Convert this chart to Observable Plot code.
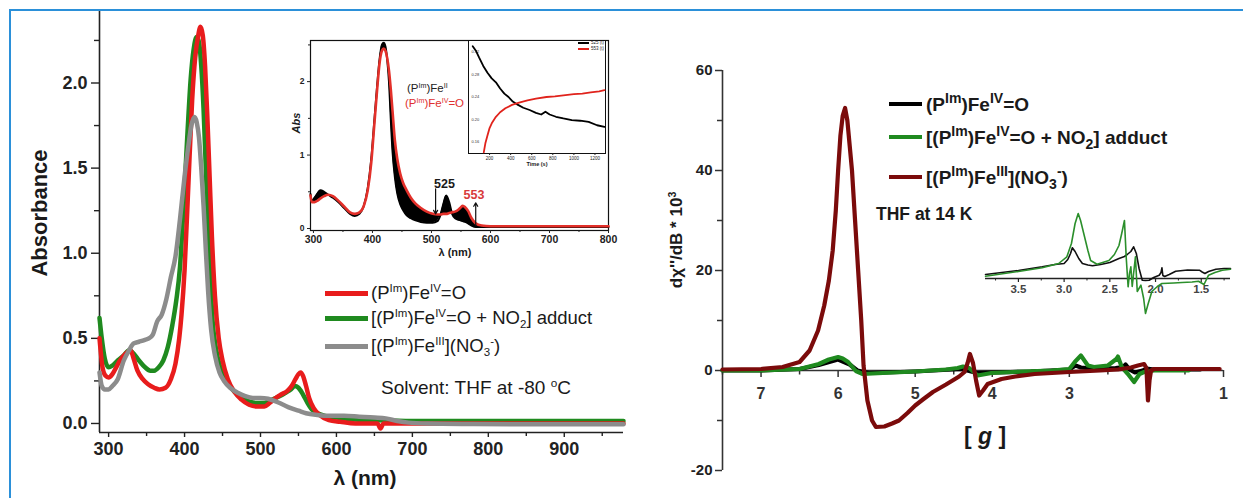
<!DOCTYPE html>
<html>
<head>
<meta charset="utf-8">
<script src="https://cdn.jsdelivr.net/npm/d3@7"></script>
<script src="https://cdn.jsdelivr.net/npm/@observablehq/plot@0.6"></script>
<style>
html,body{margin:0;padding:0;background:#fff;}
#root{position:relative;width:1243px;height:498px;overflow:hidden;background:#fff;font-family:"Liberation Sans",Arial,Helvetica,sans-serif;color:#1a1a1a;}
#root svg{position:absolute;overflow:visible;}
.t{position:absolute;white-space:nowrap;line-height:1;}
.t sup{font-size:62%;vertical-align:0;position:relative;top:-0.6em;}
.t sub{font-size:62%;vertical-align:0;position:relative;top:0.35em;}
.big sup,.big sub{font-size:74%;}
.sw{position:absolute;}
#border{position:absolute;left:9px;top:9px;width:1300px;height:520px;border:2px solid #2b90d9;box-sizing:border-box;}
</style>
</head>
<body>
<div id="root"><div id="border"></div></div>
<script>
// ---------------- Left panel: UV-vis (main) ----------------
const absMajor = [0, 0.5, 1.0, 1.5, 2.0];
const absMinor = [0.25, 0.75, 1.25, 1.75, 2.25];
const wlMajor = [300, 400, 500, 600, 700, 800, 900];
const wlMinor = [350, 450, 550, 650, 750, 850, 950];

const redWl  = [288,292,296,300,305,310,315,320,325,329,333,338,345,352,360,367,375,382,388,393,396,400,405,410,414,418,421,424,427,430,433,436,440,445,450,457,465,475,485,495,505,512,520,527,535,541,546,550,553,556,560,564,570,578,590,605,625,645,654,658,662,675,700,750,800,850,900,950,978];
const redAbs = [0.50,0.33,0.28,0.27,0.29,0.33,0.37,0.40,0.42,0.43,0.38,0.31,0.26,0.23,0.21,0.20,0.21,0.26,0.35,0.50,0.64,0.90,1.40,1.90,2.15,2.28,2.33,2.28,2.10,1.80,1.45,1.10,0.75,0.50,0.37,0.26,0.19,0.14,0.11,0.10,0.10,0.12,0.15,0.17,0.19,0.22,0.26,0.29,0.30,0.28,0.22,0.15,0.09,0.05,0.02,0.01,0.0,0.0,0.0,-0.03,0.0,0.0,0.0,0.0,0.0,0.0,0.0,0.0,0.0];

const greenWl  = [288,291,295,300,305,312,320,327,333,340,348,355,360,366,372,378,384,389,394,399,404,408,412,416,419,422,425,428,431,434,437,441,447,452,458,465,475,485,495,505,515,525,533,540,545,550,556,562,568,575,585,600,620,650,700,750,800,850,900,950,978];
const greenAbs = [0.62,0.50,0.38,0.33,0.34,0.37,0.40,0.43,0.41,0.37,0.33,0.31,0.31,0.33,0.37,0.45,0.58,0.72,0.92,1.30,1.72,2.02,2.20,2.27,2.24,2.10,1.85,1.50,1.15,0.85,0.60,0.45,0.33,0.27,0.23,0.19,0.15,0.13,0.12,0.12,0.14,0.16,0.18,0.20,0.22,0.21,0.17,0.12,0.08,0.06,0.045,0.035,0.025,0.02,0.015,0.015,0.015,0.015,0.015,0.015,0.015];

const grayWl  = [288,291,295,300,305,312,320,327,333,340,347,353,358,364,370,376,382,388,394,400,405,409,413,416,419,422,425,428,431,435,440,446,452,460,470,480,490,500,510,520,530,540,550,560,575,590,610,630,650,665,680,695,720,780,850,920,978];
const grayAbs = [0.30,0.22,0.20,0.20,0.22,0.26,0.37,0.43,0.47,0.48,0.49,0.50,0.52,0.60,0.64,0.73,0.86,0.98,1.20,1.45,1.63,1.75,1.80,1.77,1.68,1.50,1.28,1.02,0.78,0.55,0.40,0.30,0.25,0.21,0.18,0.16,0.15,0.15,0.145,0.13,0.11,0.09,0.075,0.06,0.05,0.045,0.045,0.04,0.035,0.03,0.015,0.005,0.0,-0.003,-0.005,-0.005,-0.005];

// ---------------- Left inset: spectral change ----------------
const inAbsTicks = [0, 1, 2];
const inAbsMinor = [0.5, 1.5, 2.5];
const inWlTicks = [300, 400, 500, 600, 700, 800];
const inWlMinor = [350, 450, 550, 650, 750];
const inWl    = [295,297,302,307,312,318,325,333,342,352,362,370,378,385,392,398,403,408,412,416,419,422,425,428,431,434,438,442,447,452,458,465,473,482,492,502,510,515,520,525,530,535,540,546,550,553,557,562,568,575,585,600,650,700,750,800];
const inBlack = [0.47,0.38,0.42,0.48,0.52,0.50,0.46,0.42,0.36,0.28,0.20,0.17,0.20,0.30,0.55,0.95,1.45,1.95,2.30,2.50,2.53,2.48,2.30,2.00,1.50,1.05,0.70,0.48,0.33,0.25,0.18,0.14,0.11,0.09,0.08,0.08,0.10,0.18,0.33,0.45,0.36,0.20,0.14,0.12,0.11,0.10,0.09,0.07,0.04,0.02,0.02,0.02,0.02,0.02,0.02,0.02];
const inRed   = [0.45,0.36,0.36,0.38,0.41,0.44,0.46,0.44,0.38,0.30,0.22,0.20,0.22,0.30,0.52,0.90,1.40,1.90,2.25,2.42,2.45,2.42,2.32,2.15,1.90,1.60,1.20,0.95,0.75,0.62,0.52,0.42,0.34,0.28,0.23,0.20,0.19,0.19,0.20,0.20,0.21,0.22,0.23,0.26,0.29,0.31,0.29,0.24,0.14,0.07,0.04,0.03,0.03,0.03,0.03,0.03];
const peakLabels = ["525", "553"];
const peakLabelWl = [522, 572];
const peakLabelAbs = [0.60, 0.46];
const peakLabelColors = ["#1a1a1a", "#d83a3a"];
const arrowWl = [507, 575];
const arrowFrom = [0.54, 0.04];
const arrowTo = [0.20, 0.35];

// ---------------- Kinetic sub-inset ----------------
const kinTimeTicks = [200, 400, 600, 800, 1000, 1200];
const kinYTicks = [0.16, 0.20, 0.24, 0.28, 0.32];
const kinBlackT = [40,70,100,140,180,220,260,300,340,380,420,470,520,580,640,690,730,770,830,900,980,1060,1140,1220,1290];
const kinBlack  = [0.33,0.322,0.31,0.295,0.283,0.273,0.266,0.255,0.246,0.24,0.232,0.226,0.221,0.217,0.212,0.209,0.214,0.209,0.205,0.202,0.199,0.198,0.196,0.19,0.187];
const kinRedT = [145,160,180,200,225,260,300,350,413,480,560,640,740,820,900,1000,1080,1160,1240,1290];
const kinRed  = [0.142,0.158,0.172,0.185,0.195,0.205,0.213,0.22,0.226,0.23,0.234,0.237,0.24,0.241,0.243,0.245,0.246,0.248,0.25,0.252];

// ---------------- Right panel: EPR ----------------
const eprYMajor = [-20, 0, 20, 40, 60];
const eprYMinor = [-10, 10, 30, 50];
const gMajor = [7, 6, 5, 4, 3, 2, 1];
const gMinor = [7.5, 6.5, 5.5, 4.5, 3.5, 2.5, 1.5];
const gLabels = [7, 6, 5, 4, 3, 1];

const blackG = [7.5,7.0,6.5,6.25,6.0,5.85,5.75,5.6,5.0,4.4,4.2,3.5,3.0,2.92,2.85,2.7,2.4,2.3,2.27,2.22,2.15,2.05,2.0,1.9,1.5,1.3];
const blackV = [0,0,0.3,1.1,2.2,1.2,0,-0.5,-0.2,0.3,-0.5,-0.2,0.2,1.0,0.6,0.4,0.5,0.7,1.2,0.2,-0.4,0,0.4,0.2,0.2,0.2];
const greenG = [7.5,7.0,6.5,6.25,6.12,6.0,5.94,5.87,5.77,5.68,5.42,5.0,4.6,4.45,4.38,4.3,4.19,4.01,3.6,3.23,3.0,2.93,2.85,2.76,2.68,2.5,2.39,2.37,2.32,2.24,2.16,2.09,2.03,1.9,1.7,1.45];
const greenV = [0,0,0.3,1.3,2.2,2.7,2.4,1.7,-0.1,-0.7,-0.5,-0.2,0.2,0.5,0.8,0.5,-1,-0.5,-0.2,0,0.3,1.7,3,1,0.7,1,2.3,2.8,0.7,-0.7,-2.3,-0.7,-0.3,0,0,0];
const maroonG = [7.5,7.0,6.72,6.5,6.37,6.26,6.18,6.12,6.07,6.03,6.0,5.97,5.94,5.91,5.88,5.85,5.82,5.78,5.74,5.7,5.67,5.62,5.56,5.51,5.4,5.3,5.21,5.1,5.0,4.9,4.77,4.6,4.43,4.36,4.32,4.29,4.25,4.21,4.17,4.12,4.06,3.97,3.88,3.7,3.45,3.0,2.6,2.37,2.2,2.11,2.03,2.0,1.98,1.96,1.94,1.9,1.7,1.4,1.05];
const maroonV = [0.2,0.3,0.7,1.7,4,8,13,18,24,32,40,47,51,52.5,50,45,40,30,20,10,1,-6,-10,-11.3,-11.2,-10.6,-10,-8.5,-7,-5.8,-4.3,-2.8,-1.2,-0.3,1.5,3.3,1.5,-2,-5,-4,-2.7,-2.2,-1.7,-1.2,-0.7,-0.3,0,0.2,0.6,1.0,1.3,0.5,-6,-2,0,0.3,0.3,0.3,0.3];

// ---------------- Right inset: expanded EPR (arbitrary units) ----------------
const insetGTicks = [3.5, 3.0, 2.5, 2.0, 1.5];
const insetGMinor = [3.75, 3.25, 2.75, 2.25, 1.75, 1.25];
const insetBlackG = [3.86,3.5,3.24,3.1,3.0,2.96,2.93,2.91,2.88,2.84,2.80,2.74,2.69,2.6,2.5,2.4,2.34,2.31,2.27,2.24,2.21,2.18,2.145,2.11,2.07,2.02,1.96,1.94,1.93,1.92,1.9,1.85,1.78,1.65,1.52,1.49,1.46,1.42,1.34,1.25,1.18];
const insetBlackV = [4,8,11.7,14,15,19,25,30.7,27,20,15,13.5,12.7,14,16,20,22,24,27,31.7,25,10,-1.7,-2,-1.7,1,3.3,6,10.7,3,2,4,7.3,8.5,8.3,6.5,5,7,9.3,10,10];
const insetGreenG = [3.86,3.5,3.24,3.06,2.97,2.92,2.88,2.846,2.82,2.78,2.74,2.71,2.64,2.51,2.45,2.40,2.37,2.34,2.32,2.30,2.285,2.27,2.255,2.24,2.22,2.20,2.16,2.13,2.11,2.08,2.04,1.98,1.93,1.8,1.71,1.6,1.53,1.47,1.42,1.35,1.27,1.18];
const insetGreenV = [2.3,7,10.7,15,21.7,35,55,65,58,43,28,18,14.3,18,24,33,45,58,20,-8.3,5,11.7,-8,5,21.7,-13,-6.7,-20,-35,-25,-13,-8,-5,-4.5,-4,-3.5,-2.7,-6,3.3,6,8.3,9.3];

// ---------------- Rendering ----------------
const FONT = '"Liberation Sans", Arial, Helvetica, sans-serif';
const C_RED = "#e81c1c", C_GREEN = "#1f8a1f", C_GRAY = "#8c8c8c", C_MAROON = "#7b0b0b";
const root = document.getElementById("root");

function put(svg, left, top) {
  svg.style.left = left + "px";
  svg.style.top = top + "px";
  root.appendChild(svg);
}
function label(html, x, y, o = {}) {
  const d = document.createElement("div");
  d.className = "t" + (o.cls ? " " + o.cls : "");
  d.innerHTML = html;
  d.style.fontSize = (o.size || 16) + "px";
  d.style.fontWeight = o.weight || "normal";
  d.style.color = o.color || "#1a1a1a";
  if (o.italic) d.style.fontStyle = "italic";
  const tx = o.anchor === "middle" ? "-50%" : o.anchor === "end" ? "-100%" : "0";
  d.style.left = x + "px";
  d.style.top = y + "px";
  d.style.transform = o.rotate ? `translate(-50%,-50%) rotate(${o.rotate}deg)` : `translate(${tx},-50%)`;
  root.appendChild(d);
}
function swatch(x, y, w, h, color) {
  const d = document.createElement("div");
  d.className = "sw";
  d.style.left = x + "px"; d.style.top = (y - h / 2) + "px";
  d.style.width = w + "px"; d.style.height = h + "px";
  d.style.background = color;
  root.appendChild(d);
}
const baseStyle = (size) => ({background: "transparent", fontFamily: FONT, fontSize: size + "px", color: "#222", overflow: "visible"});

// Left main plot
const uv = Plot.plot({
  width: 640, height: 498,
  marginLeft: 99, marginRight: 17, marginTop: 11, marginBottom: 66,
  x: {domain: [288, 978], axis: null},
  y: {domain: [-0.053, 2.42], axis: null},
  style: {...baseStyle(18), fontWeight: "bold"},
  marks: [
    Plot.axisY({ticks: absMajor, tickSize: 8, tickPadding: 4, tickFormat: d3.format(".1f"), label: null, fontSize: 18, fontWeight: "bold", strokeWidth: 1.4}),
    Plot.axisY({ticks: absMinor, tickSize: 5, tickFormat: () => "", label: null, strokeWidth: 1.4}),
    Plot.axisX({ticks: wlMajor, tickSize: 5, tickPadding: 5, tickFormat: d3.format("d"), label: null, fontSize: 18, fontWeight: "bold", strokeWidth: 1.4}),
    Plot.axisX({ticks: wlMinor, tickSize: 4, tickFormat: () => "", label: null, strokeWidth: 1.4}),
    Plot.ruleX([288], {stroke: "#222", strokeWidth: 1.6}),
    Plot.ruleY([-0.053], {stroke: "#222", strokeWidth: 1.6}),
    Plot.line(greenWl, {x: greenWl, y: greenAbs, stroke: C_GREEN, strokeWidth: 4.5, curve: "monotone-x"}),
    Plot.line(redWl, {x: redWl, y: redAbs, stroke: C_RED, strokeWidth: 4.5, curve: "monotone-x"}),
    Plot.line(grayWl, {x: grayWl, y: grayAbs, stroke: C_GRAY, strokeWidth: 4.5, curve: "monotone-x"})
  ]
});
put(uv, 0, 0);

// Left inset
const inset = Plot.plot({
  width: 340, height: 225,
  marginLeft: 30, marginRight: 12, marginTop: 10, marginBottom: 25,
  x: {domain: [295, 800], axis: null},
  y: {domain: [-0.027, 2.56], axis: null},
  style: {...baseStyle(10), fontWeight: "bold"},
  marks: [
    Plot.frame({stroke: "#111", strokeWidth: 1.2}),
    Plot.axisY({ticks: inAbsTicks, tickSize: 3, tickPadding: 3, tickFormat: d3.format("d"), label: null, fontSize: 8.5, fontWeight: "bold"}),
    Plot.axisY({ticks: inAbsMinor, tickSize: 2, tickFormat: () => "", label: null}),
    Plot.axisX({ticks: inWlTicks, tickSize: 3, tickPadding: 2, tickFormat: d3.format("d"), label: null, fontSize: 10.5, fontWeight: "bold"}),
    Plot.axisX({ticks: inWlMinor, tickSize: 2, tickFormat: () => "", label: null}),
    Plot.areaY(inWl, {x: inWl, y1: inBlack, y2: inRed, fill: "#000", curve: "monotone-x"}),
    Plot.line(inWl, {x: inWl, y: inBlack, stroke: "#000", strokeWidth: 2, curve: "monotone-x"}),
    Plot.line(inWl, {x: inWl, y: inRed, stroke: "#e3302a", strokeWidth: 2.6, curve: "monotone-x"}),
    Plot.arrow(arrowWl, {x1: arrowWl, y1: arrowFrom, x2: arrowWl, y2: arrowTo, stroke: "#111", strokeWidth: 1.2, headLength: 5}),
    Plot.text(peakLabels, {x: peakLabelWl, y: peakLabelAbs, text: peakLabels, fill: peakLabelColors, fontSize: 12.5, fontWeight: "bold"})
  ]
});
put(inset, 280, 30);

// Kinetic sub-inset
const kin = Plot.plot({
  width: 150, height: 135,
  marginLeft: 6, marginRight: 7, marginTop: 4, marginBottom: 18,
  x: {domain: [0, 1300], axis: null},
  y: {domain: [0.14, 0.34], axis: null},
  style: baseStyle(5),
  marks: [
    Plot.frame({stroke: "#111", strokeWidth: 1, fill: "white"}),
    Plot.axisX({ticks: kinTimeTicks, tickSize: 2, tickPadding: 1, tickFormat: d3.format("d"), label: null, fontSize: 4.5}),
    Plot.text(kinYTicks, {x: 0, y: kinYTicks, text: kinYTicks.map(d3.format(".2f")), dx: 3, textAnchor: "start", fontSize: 4, fill: "#333"}),
    Plot.line(kinBlackT, {x: kinBlackT, y: kinBlack, stroke: "#000", strokeWidth: 1.8}),
    Plot.line(kinRedT, {x: kinRedT, y: kinRed, stroke: "#e0231c", strokeWidth: 1.8})
  ]
});
put(kin, 462, 36);

// Right main plot
const epr = Plot.plot({
  width: 603, height: 498,
  marginLeft: 82, marginRight: 20, marginTop: 70, marginBottom: 28,
  x: {domain: [7.5, 1], axis: null},
  y: {domain: [-20, 60], axis: null},
  style: {...baseStyle(15), fontWeight: "bold"},
  marks: [
    Plot.axisY({ticks: eprYMajor, tickSize: 7, tickPadding: 3, tickFormat: d => String(d), label: null, fontSize: 15, fontWeight: "bold", stroke: "#333", strokeWidth: 1.5}),
    Plot.axisY({ticks: eprYMinor, tickSize: 5, tickFormat: () => "", label: null, stroke: "#333", strokeWidth: 1.5}),
    Plot.ruleX([7.5], {stroke: "#333", strokeWidth: 1.6}),
    Plot.ruleY([0], {stroke: "#333", strokeWidth: 1.6}),
    Plot.ruleX(gMajor, {x: d => d, y1: 0, y2: -1.4, stroke: "#333", strokeWidth: 1.5}),
    Plot.ruleX(gMinor, {x: d => d, y1: 0, y2: -0.9, stroke: "#333", strokeWidth: 1.5}),
    Plot.text(gLabels, {x: d => d, y: 0, dy: 23, text: d => String(d), fontSize: 16, fontWeight: "bold", fill: "#333"}),
    Plot.line(blackG, {x: blackG, y: blackV, stroke: "#000", strokeWidth: 4.2}),
    Plot.line(greenG, {x: greenG, y: greenV, stroke: C_GREEN, strokeWidth: 4.2}),
    Plot.line(maroonG, {x: maroonG, y: maroonV, stroke: C_MAROON, strokeWidth: 4.2})
  ]
});
put(epr, 640, 0);

// Right inset
const eprInset = Plot.plot({
  width: 265, height: 125,
  marginLeft: 10, marginRight: 10, marginTop: 10, marginBottom: 5,
  x: {domain: [3.86, 1.18], axis: null},
  y: {domain: [-37, 73], axis: null},
  style: baseStyle(11),
  marks: [
    Plot.ruleY([0], {stroke: "#222", strokeWidth: 1.3}),
    Plot.ruleX(insetGTicks, {x: d => d, y1: 0, y2: -4, stroke: "#222", strokeWidth: 1.2}),
    Plot.ruleX(insetGMinor, {x: d => d, y1: 0, y2: -2.5, stroke: "#222", strokeWidth: 1}),
    Plot.text(insetGTicks, {x: d => d, y: 0, dy: 11, text: d => d.toFixed(1), fontSize: 11.5, fontWeight: "bold", fill: "#444"}),
    Plot.line(insetBlackG, {x: insetBlackG, y: insetBlackV, stroke: "#111", strokeWidth: 1.6}),
    Plot.line(insetGreenG, {x: insetGreenG, y: insetGreenV, stroke: "#2b8f2b", strokeWidth: 1.6})
  ]
});
put(eprInset, 975, 195);

// ---------------- Text & legends ----------------
// Left panel
label("Absorbance", 40, 213, {size: 22, weight: "bold", rotate: -90});
label("λ (nm)", 365, 477, {size: 21, weight: "bold", anchor: "middle"});
swatch(325, 293, 43, 5, C_RED);
swatch(325, 318, 43, 5, C_GREEN);
swatch(325, 346, 43, 5, C_GRAY);
label("(P<sup>Im</sup>)Fe<sup>IV</sup>=O", 371, 293, {size: 18.5});
label("[(P<sup>Im</sup>)Fe<sup>IV</sup>=O + NO<sub>2</sub>] adduct", 371, 318, {size: 18.5});
label("[(P<sup>Im</sup>)Fe<sup>III</sup>](NO<sub>3</sub><sup>-</sup>)", 371, 346, {size: 18.5});
label("Solvent: THF at -80 <sup>o</sup>C", 381, 387, {size: 19});

// Left inset texts
label("<i>Abs</i>", 296, 123, {size: 11, weight: "bold", rotate: -90});
label("(P<sup>Im</sup>)Fe<sup>II</sup>", 407, 89, {size: 11.5, color: "#222"});
label("(P<sup>Im</sup>)Fe<sup>IV</sup>=O", 405, 104, {size: 11.5, color: "#e03030"});
label("λ (nm)", 455, 252, {size: 11, weight: "bold", anchor: "middle"});
label("Time (s)", 537, 165, {size: 5.5, weight: "bold", anchor: "middle"});
swatch(578, 43, 11, 1.5, "#000");
swatch(578, 49, 11, 1.5, "#e0231c");
label("525 (t)", 591, 43, {size: 4.5});
label("553 (t)", 591, 49, {size: 4.5});

// Right panel
label("dχ''/dB * 10<sup>3</sup>", 676, 240, {size: 17, weight: "bold", rotate: -90});
label("[ <i>g</i> ]", 985, 436, {size: 23, weight: "bold", anchor: "middle"});
swatch(889, 104, 33, 4, "#000");
swatch(889, 137, 33, 4, C_GREEN);
swatch(889, 177, 33, 4, C_MAROON);
label("(P<sup>Im</sup>)Fe<sup>IV</sup>=O", 926, 104, {size: 19, weight: "bold", cls: "big"});
label("[(P<sup>Im</sup>)Fe<sup>IV</sup>=O + NO<sub>2</sub>] adduct", 926, 137, {size: 19, weight: "bold", cls: "big"});
label("[(P<sup>Im</sup>)Fe<sup>III</sup>](NO<sub>3</sub><sup>-</sup>)", 926, 177, {size: 19, weight: "bold", cls: "big"});
label("THF at 14 K", 876, 215, {size: 17.5, weight: "bold"});
</script>
</body>
</html>
